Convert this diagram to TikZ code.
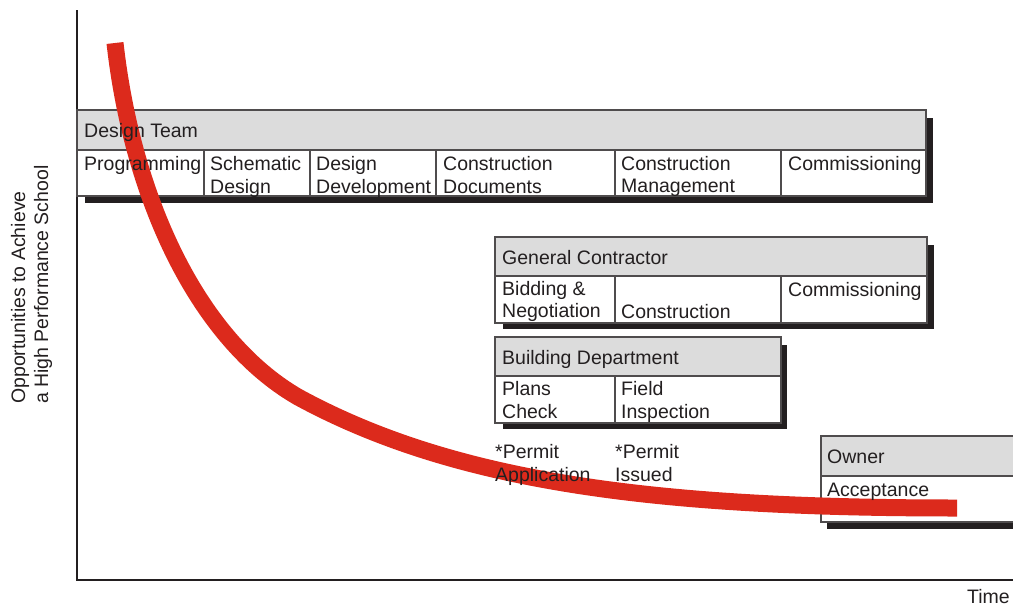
\documentclass[tikz,border=0pt]{standalone}
\usepackage{fontspec}
\setmainfont{Liberation Sans}
\definecolor{curvered}{HTML}{DC2A1C}
\definecolor{hdr}{HTML}{DCDCDC}
\definecolor{ink}{HTML}{231F20}
\newcommand\phasetext[4]{\node[lbl] (#1) at (#2,#3) {#4};}
\begin{document}
\begin{tikzpicture}[x=1pt,y=-1pt,
  shadowbox/.style={fill=ink, draw=none},
  cellbox/.style={draw=ink!80, line width=1.2pt, fill=white},
  headbox/.style={draw=ink!80, line width=1.2pt, fill=hdr},
  sepline/.style={draw=ink!80, line width=1.2pt},
  lbl/.style={anchor=base west, inner sep=0pt, text=ink, font=\fontsize{19.5}{23}\selectfont},
  axisline/.style={line width=2pt, draw=ink},
  opportunity/.style={draw=curvered, line width=17pt, line cap=butt, line join=round}]
\useasboundingbox (0,0) rectangle (1013,606);

% axes
\coordinate (ytop) at (77,10);
\coordinate (orig) at (77,580);
\coordinate (xend) at (1013,580);
\draw[axisline] (ytop) -- (orig) -- (xend);

% shadows
\fill[shadowbox] (85,118) rectangle (933,203);
\fill[shadowbox] (503,245) rectangle (934,329);
\fill[shadowbox] (503,345) rectangle (787,429);
\fill[shadowbox] (827,444) rectangle (1025,529);

% Design Team box
\path[headbox] (77,110) rectangle (926,150);
\path[cellbox] (77,150) rectangle (926,196);
\foreach \cx in {204,310,436,615,781} \draw[sepline] (\cx,150) -- (\cx,196);

% General Contractor box
\path[headbox] (495,237) rectangle (927,276);
\path[cellbox] (495,276) rectangle (927,323);
\foreach \cx in {615,781} \draw[sepline] (\cx,276) -- (\cx,323);

% Building Department box
\path[headbox] (495,337) rectangle (781,376);
\path[cellbox] (495,376) rectangle (781,423);
\draw[sepline] (615,376) -- (615,423);

% Owner box
\path[headbox] (821,436) rectangle (1020,476);
\path[cellbox] (821,476) rectangle (1020,522);

% opportunity curve
\coordinate (cstart) at (115,43);
\coordinate (cmid) at (298,397);
\coordinate (cend) at (957,508);
\draw[opportunity] (cstart) .. controls (132,195) and (196,338) .. (cmid)
  .. controls (456,483) and (657,508) .. (cend);

% texts
\phasetext{dt}{84}{137}{Design Team}
\phasetext{dt1}{84}{170}{Programming}
\phasetext{dt2a}{210}{170}{Schematic}
\phasetext{dt2b}{210}{193}{Design}
\phasetext{dt3a}{316}{170}{Design}
\phasetext{dt3b}{316}{193}{Development}
\phasetext{dt4a}{443}{170}{Construction}
\phasetext{dt4b}{443}{193}{Documents}
\phasetext{dt5a}{621}{170}{Construction}
\phasetext{dt5b}{621}{192}{Management}
\phasetext{dt6}{788}{170}{Commissioning}

\phasetext{gc}{502}{264}{General Contractor}
\phasetext{gc1a}{502}{295}{Bidding \&}
\phasetext{gc1b}{502}{317}{Negotiation}
\phasetext{gc2}{621}{318}{Construction}
\phasetext{gc3}{788}{296}{Commissioning}

\phasetext{bd}{502}{364}{Building Department}
\phasetext{bd1a}{502}{395}{Plans}
\phasetext{bd1b}{502}{418}{Check}
\phasetext{bd2a}{621}{395}{Field}
\phasetext{bd2b}{621}{418}{Inspection}

\phasetext{pa1}{495}{458}{*Permit}
\phasetext{pa2}{495}{481}{Application}
\phasetext{pi1}{615}{458}{*Permit}
\phasetext{pi2}{615}{481}{Issued}

\phasetext{ow}{827}{463}{Owner}
\phasetext{ow1}{827}{496}{Acceptance}

\node[lbl, anchor=base east] (time) at (1010,603) {Time};
\node[lbl, rotate=90] (ylab1) at (25,404) {Opportunities to Achieve};
\node[lbl, rotate=90] (ylab2) at (48,404) {a High Performance School};
\end{tikzpicture}
\end{document}
